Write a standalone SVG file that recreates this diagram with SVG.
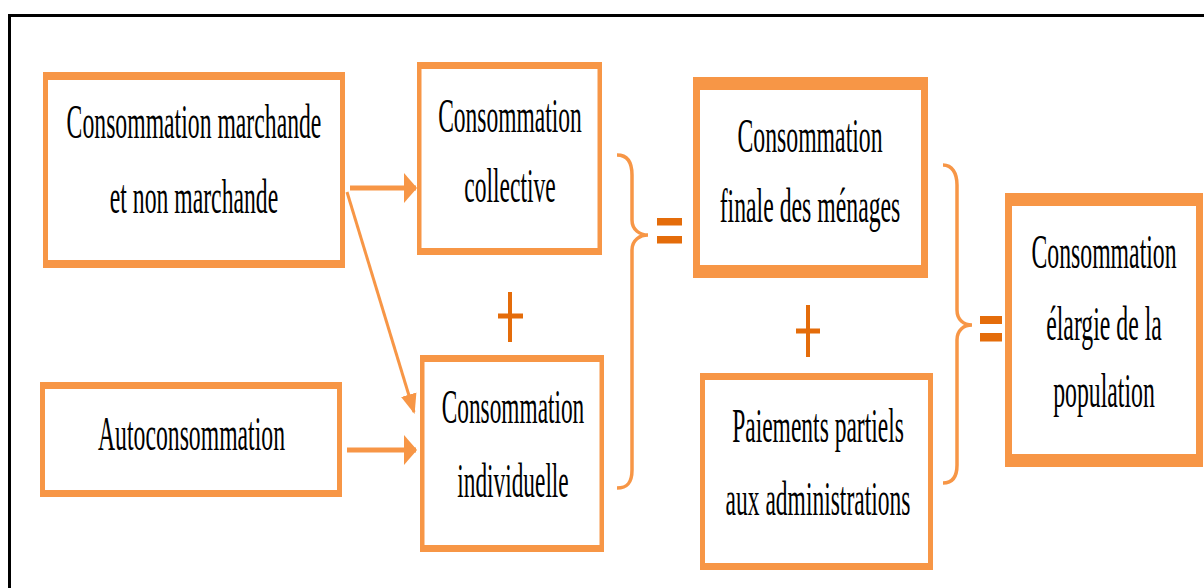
<svg xmlns="http://www.w3.org/2000/svg" width="1204" height="588" viewBox="0 0 1204 588">
<style>
.bx{fill:#F79646;fill-rule:evenodd}
.t{font-family:"Liberation Serif","Times New Roman",serif;font-size:48px;fill:#000;text-anchor:middle}
.ln{stroke:#F79646;fill:none}
.br{stroke:#F79646;stroke-width:3.5;fill:none}
.op{fill:#E46C0A}
</style>
<defs>
<marker id="ah" markerUnits="userSpaceOnUse" markerWidth="13" markerHeight="30" refX="12" refY="15" orient="auto" viewBox="0 0 13 30">
<path d="M0,0 L13,15 L0,30 Z" fill="#F79646"/>
</marker>
<marker id="ah2" markerUnits="userSpaceOnUse" markerWidth="20" markerHeight="20" refX="18" refY="10" orient="auto" viewBox="0 0 20 20">
<path d="M0,2 L20,10 L0,18 Z" fill="#F79646"/>
</marker>
</defs>
<rect width="1204" height="588" fill="#fff"/>
<path d="M9.5,588 V15.5 H1204" stroke="#000" stroke-width="3" fill="none"/>

<g id="connectors">
<line class="ln" x1="350" y1="188" x2="416" y2="188" stroke-width="5" marker-end="url(#ah)"/>
<line class="ln" x1="347" y1="192" x2="414" y2="412" stroke-width="3" marker-end="url(#ah2)"/>
<line class="ln" x1="347" y1="450" x2="416" y2="450" stroke-width="5" marker-end="url(#ah)"/>
<path class="br" d="M617,155 C628,155 632,163 632,175 V220 C632,230 640,235 648,235 C640,235 632,240 632,250 V470 C632,482 628,488 617,488"/>
<path class="br" d="M943,165 C952,165 957,173 957,185 V310 C957,320 964,325 972,325 C964,325 957,330 957,340 V465 C957,477 952,483 943,483"/>
</g>

<g id="operators">
<rect class="op" x="657" y="218" width="25" height="7.5"/>
<rect class="op" x="657" y="236" width="25" height="7.5"/>
<rect class="op" x="980" y="316" width="22" height="8"/>
<rect class="op" x="980" y="333" width="22" height="8.5"/>
<rect class="op" x="508" y="292" width="4" height="50"/>
<rect class="op" x="498" y="313.5" width="25" height="5"/>
<rect class="op" x="806" y="305" width="4" height="52"/>
<rect class="op" x="796" y="328.5" width="24" height="5"/>
</g>

<g id="n1">
<path class="bx" d="M43,72 H345 V268 H43 Z M48,80 V260 H340 V80 Z"/>
<g transform="translate(194,0) scale(0.494,1)">
<text class="t" x="0" y="138">Consommation marchande</text>
<text class="t" x="0" y="213">et non marchande</text>
</g>
</g>
<g id="n2">
<path class="bx" d="M417,62 H602 V255 H417 Z M421.5,69 V248 H597.5 V69 Z"/>
<g transform="translate(510,0) scale(0.49,1)">
<text class="t" x="0" y="132">Consommation</text>
<text class="t" x="0" y="202">collective</text>
</g>
</g>
<g id="n3">
<path class="bx" d="M420,355 H604 V552 H420 Z M424.5,362 V545 H599.5 V362 Z"/>
<g transform="translate(513,0) scale(0.486,1)">
<text class="t" x="0" y="423">Consommation</text>
<text class="t" x="0" y="497">individuelle</text>
</g>
</g>
<g id="n4">
<path class="bx" d="M693,77 H928 V278 H693 Z M700,90 V265 H921 V90 Z"/>
<g transform="translate(810,0) scale(0.495,1)">
<text class="t" x="0" y="152">Consommation</text>
<text class="t" x="0" y="222">finale des ménages</text>
</g>
</g>
<g id="n5">
<path class="bx" d="M700,373 H933 V570 H700 Z M705,380 V563 H928 V380 Z"/>
<g transform="translate(818,0) scale(0.49,1)">
<text class="t" x="0" y="442">Paiements partiels</text>
<text class="t" x="0" y="515">aux administrations</text>
</g>
</g>
<g id="n6">
<path class="bx" d="M1005,193 H1203 V467 H1005 Z M1012,206 V454 H1196 V206 Z"/>
<g transform="translate(1104,0) scale(0.495,1)">
<text class="t" x="0" y="268">Consommation</text>
<text class="t" x="0" y="340">élargie de la</text>
<text class="t" x="0" y="407">population</text>
</g>
</g>
<g id="n7">
<path class="bx" d="M40,382 H342 V497 H40 Z M45,389 V490 H337 V389 Z"/>
<g transform="translate(191.5,0) scale(0.494,1)">
<text class="t" x="0" y="450">Autoconsommation</text>
</g>
</g>
</svg>
